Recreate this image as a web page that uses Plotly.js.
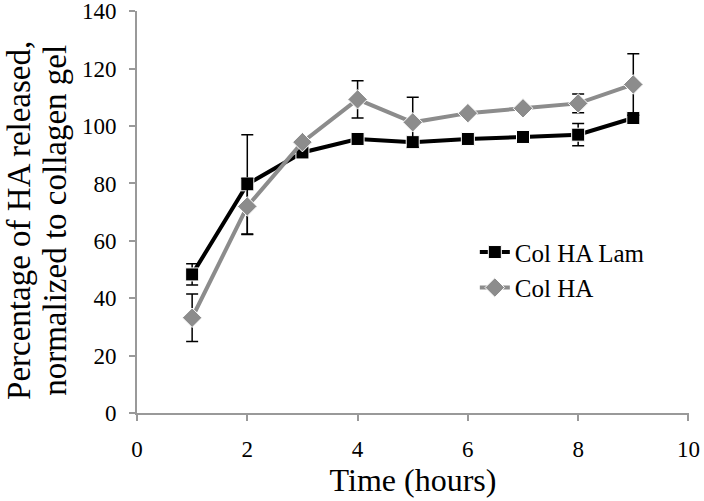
<!DOCTYPE html>
<html><head><meta charset="utf-8">
<script src="https://cdn.plot.ly/plotly-3.0.1.min.js"></script>
<style>html,body{margin:0;padding:0;background:#fff}</style>
</head><body>
<div id="chart" style="width:704px;height:501px"></div>
<script>
const hours = [1, 2, 3, 4, 5, 6, 7, 8, 9];
const colHALam = [48.3, 79.7, 90.8, 95.5, 94.4, 95.5, 96.2, 97, 102.8];
const colHALamErr = [3.7, 17.3, 0, 0, 0, 0, 0, 3.9, 0];
const colHA = [33.2, 72, 94.4, 109.3, 101.3, 104.5, 106.2, 107.9, 114.5];
const colHAErr = [8.3, 9.8, 0, 6.5, 8.7, 0, 0, 3.3, 10.7];
const xTicks = [0, 2, 4, 6, 8, 10];
const yTicks = [0, 20, 40, 60, 80, 100, 120, 140];
const yTitleLines = ['Percentage of HA released,', 'normalized to collagen gel'];

const font = '"Liberation Serif", "Times New Roman", Times, serif';
const traces = [
  {x: hours, y: colHALam, name: 'Col HA Lam', type: 'scatter', mode: 'lines+markers',
   line: {color: '#000000', width: 4},
   marker: {symbol: 'square', size: 13, color: '#000000', line: {color: '#ffffff', width: 1}},
   error_y: {type: 'data', array: colHALamErr, visible: true, color: '#000000', thickness: 1.5, width: 6}},
  {x: hours, y: colHA, name: 'Col HA', type: 'scatter', mode: 'lines+markers',
   line: {color: '#8c8c8c', width: 4},
   marker: {symbol: 'diamond', size: 15, color: '#8c8c8c', line: {color: '#ffffff', width: 1}},
   error_y: {type: 'data', array: colHAErr, visible: true, color: '#000000', thickness: 1.5, width: 6}}
];
const layout = {
  width: 704, height: 501,
  margin: {l: 137, r: 15, t: 11, b: 88},
  paper_bgcolor: '#ffffff', plot_bgcolor: '#ffffff',
  font: {family: font, color: '#000000', size: 20},
  showlegend: true,
  legend: {x: 0.612, y: 0.457, xanchor: 'left', yanchor: 'top', bgcolor: 'rgba(0,0,0,0)',
           font: {family: font, size: 25, color: '#000'}, tracegroupgap: 0},
  xaxis: {range: [0, 10.01], tickvals: xTicks, ticktext: xTicks.map(String),
          showgrid: false, zeroline: false, showline: true, linecolor: '#999999', linewidth: 2,
          ticks: 'outside', ticklen: 6, tickcolor: '#999999', tickwidth: 2, ticklabeloverflow: 'allow',
          ticklabelstandoff: 8,
          tickfont: {family: font, size: 23, color: '#000'}, title: {text: 'Time (hours)', font: {family: font, size: 32}, standoff: 8}},
  yaxis: {range: [0, 140.1], tickvals: yTicks, ticktext: yTicks.map(String),
          showgrid: false, zeroline: false, showline: true, linecolor: '#999999', linewidth: 2,
          ticks: 'outside', ticklen: 6, tickcolor: '#999999', tickwidth: 2, ticklabeloverflow: 'allow',
          ticklabelstandoff: 8,
          tickfont: {family: font, size: 23, color: '#000'}},
  annotations: [
    {text: yTitleLines[0], xref: 'paper', yref: 'paper', x: -0.214, y: 0.48, xanchor: 'center', yanchor: 'middle',
     textangle: -90, showarrow: false, font: {family: font, size: 33, color: '#000'}},
    {text: yTitleLines[1], xref: 'paper', yref: 'paper', x: -0.149, y: 0.48, xanchor: 'center', yanchor: 'middle',
     textangle: -90, showarrow: false, font: {family: font, size: 33, color: '#000'}}
  ]
};
Plotly.newPlot('chart', traces, layout, {displayModeBar: false, staticPlot: true});
</script>
</body></html>
